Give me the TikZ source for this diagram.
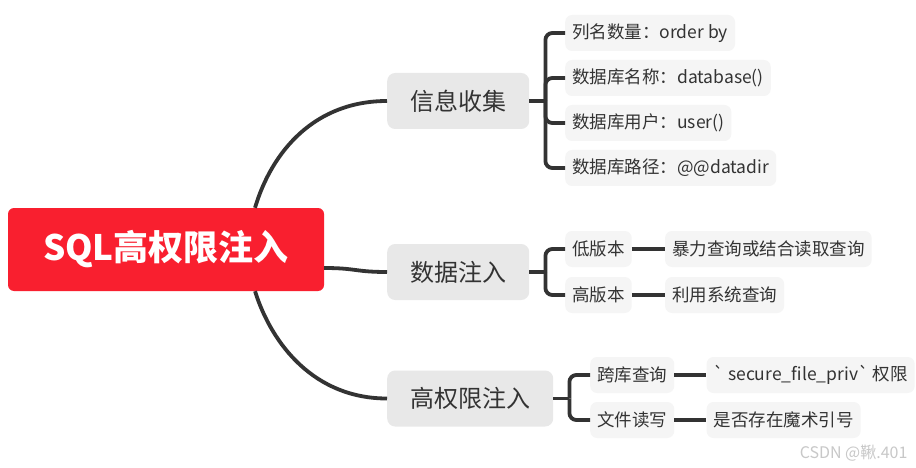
\documentclass[tikz,border=0pt]{standalone}
\usepackage{fontspec}
\setmainfont{Noto Sans CJK SC}
\usetikzlibrary{positioning}
\definecolor{rootred}{HTML}{F91F2F}
\definecolor{linegray}{HTML}{333333}
\definecolor{branchgray}{HTML}{E8E8E8}
\definecolor{leafgray}{HTML}{F5F5F5}
\definecolor{markgray}{HTML}{C8C8C8}

\begin{document}
\begin{tikzpicture}[
    x=1pt, y=-1pt,
    % every node/.style={draw},
    rootbox/.style={fill=rootred, text=white, rounded corners=6pt, minimum width=316pt, minimum height=83pt, font=\fontsize{35pt}{40pt}\selectfont\bfseries},
    branch/.style={fill=branchgray, text=linegray, rounded corners=8pt, inner xsep=23pt, minimum height=56pt, font=\fontsize{24pt}{28pt}\selectfont, anchor=west},
    leaf/.style={fill=leafgray, text=linegray, rounded corners=7pt, inner xsep=7pt, minimum height=36pt, font=\fontsize{17.5pt}{21pt}\selectfont, anchor=west},
    link/.style={draw=linegray, line width=3.8pt},
    watermark/.style={text=markgray, font=\fontsize{16pt}{19pt}\selectfont},
]
\fill[white] (0,0) rectangle (916,468);
\useasboundingbox (0,0) rectangle (916,468);

\node[rootbox] (root) at (166,249.5) {SQL高权限注入};

\node[branch] (info) at (387,101) {信息收集};
\node[branch] (data) at (387,272) {数据注入};
\node[branch] (high) at (387,398.5) {高权限注入};

% info
\node[leaf] (cols) at (565,33) {列名数量：order by};
\node[leaf] (dbname) at (565,78) {数据库名称：database()};
\node[leaf] (dbuser) at (565,123) {数据库用户：user()};
\node[leaf] (dbpath) at (565,168) {数据库路径：@@datadir};

% data
\node[leaf] (lowver) at (565,249) {低版本};
\node[leaf] (highver) at (565,295) {高版本};
\node[leaf, right=33pt of lowver] (brute) {暴力查询或结合读取查询};
\node[leaf, right=33pt of highver] (sysq) {利用系统查询};

% high
\node[leaf] (crossdb) at (590,375) {跨库查询};
\node[leaf] (fileio) at (590,420) {文件读写};
\node[leaf, right=32pt of crossdb] (priv) {\textasciigrave\ secure\_file\_priv\textasciigrave\ 权限};
\node[leaf, right=32pt of fileio] (quotes) {是否存在魔术引号};

\draw[link] ([xshift=89pt]root.north) .. controls +(17,-57) and +(-72,0) .. (info.west);
\draw[link] ([yshift=-18.5pt]root.east) .. controls +(32,0) and +(-32,0) .. (data.west);
\draw[link] ([xshift=89pt]root.south) .. controls +(17,54) and +(-72,0) .. (high.west);

\draw[link] (info.east) -- ++(16,0) coordinate (infofork);
\foreach \n in {cols,dbname,dbuser,dbpath}
    \draw[link, rounded corners=7pt] (infofork) |- (\n.west);

\draw[link] (data.east) -- ++(16,0) coordinate (datafork);
\foreach \n in {lowver,highver}
    \draw[link, rounded corners=7pt] (datafork) |- (\n.west);

\draw[link] (high.east) -- ++(16,0) coordinate (highfork);
\foreach \n in {crossdb,fileio}
    \draw[link, rounded corners=7pt] (highfork) |- (\n.west);

\draw[link] (lowver) -- (brute);
\draw[link] (highver) -- (sysq);
\draw[link] (crossdb) -- (priv);
\draw[link] (fileio) -- (quotes);

\node[watermark, anchor=east] (csdn) at (911,453) {CSDN @鞦.401};
\end{tikzpicture}
\end{document}
